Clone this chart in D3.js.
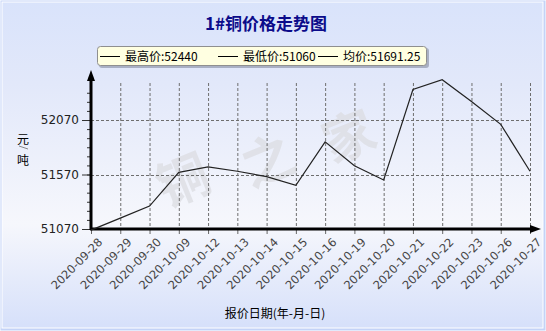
<!DOCTYPE html>
<html>
<head>
<meta charset="utf-8">
<script src="https://cdn.jsdelivr.net/npm/d3@7"></script>
<style>
  body { margin: 0; background: #fff; }
  svg { display: block; }
</style>
</head>
<body>
<svg id="chart"></svg>
<script>
let dates = ["2020-09-28", "2020-09-29", "2020-09-30", "2020-10-09", "2020-10-12", "2020-10-13",
    "2020-10-14", "2020-10-15", "2020-10-16", "2020-10-19", "2020-10-20", "2020-10-21",
    "2020-10-22", "2020-10-23", "2020-10-26", "2020-10-27"]
let prices = [51060, 51170, 51280, 51590, 51640, 51600, 51550, 51470, 51870, 51650, 51520,
    52350, 52440, 52240, 52030, 51600]
let yTicks = [51070, 51570, 52070]
let legendItems = ["最高价:52440", "最低价:51060", "均价:51691.25"]
let watermark = ["铜", "之", "家"]

let width = 546
let height = 331

let svg = d3.select("#chart")
    .attr("width", width)
    .attr("height", height)

let defs = svg.append("defs")
let bg = defs.append("linearGradient").attr("id", "bg")
    .attr("x1", 0).attr("y1", 0).attr("x2", 0).attr("y2", 1)
bg.append("stop").attr("offset", "0%").attr("stop-color", "#d9e3fb")
bg.append("stop").attr("offset", "25%").attr("stop-color", "#e2e8fa")
bg.append("stop").attr("offset", "68%").attr("stop-color", "#f6f7fc")
bg.append("stop").attr("offset", "100%").attr("stop-color", "#d6e0fa")

svg.append("rect")
    .attr("x", 0.5).attr("y", 0.5)
    .attr("width", width - 1).attr("height", height - 1)
    .attr("fill", "#c4d3f7")
svg.append("rect")
    .attr("x", 2).attr("y", 2)
    .attr("width", width - 5).attr("height", height - 5)
    .attr("fill", "url(#bg)")
    .attr("stroke", "#fff")
    .attr("stroke-width", 1)

let xScale = d3.scalePoint().domain(dates).range([91, 530])
let yScale = d3.scaleLinear().domain([51070, 52070]).range([229, 120])

// watermark
let wmPos = [[190, 198], [275, 178], [356, 154]]
watermark.forEach(function(c, i) {
    svg.append("text")
        .text(c)
        .attr("transform", "translate(" + wmPos[i][0] + "," + wmPos[i][1] + ") rotate(-22)")
        .attr("text-anchor", "middle")
        .attr("font-family", "Noto Sans CJK SC")
        .attr("font-weight", "bold")
        .attr("font-size", 52)
        .attr("fill", "#dcdde2")
        .attr("opacity", 0.75)
})

// title
svg.append("text")
    .text("1#铜价格走势图")
    .attr("x", 266).attr("y", 30)
    .attr("text-anchor", "middle")
    .attr("font-family", "Noto Sans CJK SC")
    .attr("font-weight", "bold")
    .attr("font-size", 17)
    .attr("fill", "#0b0b8a")

// legend
let legend = svg.append("g")
legend.append("rect")
    .attr("x", 99).attr("y", 48).attr("width", 330).attr("height", 20)
    .attr("rx", 3).attr("fill", "#a9b0c4")
legend.append("rect")
    .attr("x", 97.5).attr("y", 46.5).attr("width", 329).attr("height", 19)
    .attr("rx", 3).attr("fill", "#ffffe1").attr("stroke", "#8f8f8f")
let legendX = [100, 218, 318]
legendItems.forEach(function(t, i) {
    legend.append("line")
        .attr("x1", legendX[i]).attr("x2", legendX[i] + 20)
        .attr("y1", 56.5).attr("y2", 56.5)
        .attr("stroke", "#000")
    legend.append("text")
        .text(t)
        .attr("x", legendX[i] + 25).attr("y", 61)
        .attr("font-family", "Noto Sans CJK SC")
        .attr("font-size", 12)
        .attr("fill", "#000")
})

// grid
let grid = svg.append("g")
grid.selectAll(".vgrid")
    .data(dates.slice(1))
    .join("line")
    .attr("x1", d => xScale(d) + 0.5).attr("x2", d => xScale(d) + 0.5)
    .attr("y1", 83).attr("y2", 229)
    .attr("stroke", "#6e6e6e").attr("stroke-dasharray", "3,2")
grid.selectAll(".hgrid")
    .data(yTicks.slice(1))
    .join("line")
    .attr("x1", 91).attr("x2", 530)
    .attr("y1", d => Math.round(yScale(d)) + 0.5).attr("y2", d => Math.round(yScale(d)) + 0.5)
    .attr("stroke", "#6e6e6e").attr("stroke-dasharray", "3,2")

// minor ticks on y axis
let minor = d3.range(0, 16).map(i => 51070 + i * 500 / 6)
svg.append("g")
    .attr("transform", "translate(91,0)")
    .call(d3.axisLeft(yScale).tickValues(minor).tickSize(4).tickFormat(""))
    .call(g => g.select(".domain").remove())
    .call(g => g.selectAll("line").attr("stroke", "#333"))

let yAxis = svg.append("g")
    .attr("transform", "translate(91,0)")
    .call(d3.axisLeft(yScale).tickValues(yTicks).tickSize(9).tickPadding(3).tickFormat(d3.format("d")))
yAxis.select(".domain").remove()
yAxis.selectAll("line").attr("stroke", "#333")
yAxis.selectAll("text")
    .attr("font-family", "DejaVu Sans")
    .attr("font-size", 12)
    .attr("fill", "#222")

let xAxis = svg.append("g")
    .attr("transform", "translate(0,229)")
    .call(d3.axisBottom(xScale).tickSize(5).tickPadding(2))
xAxis.select(".domain").remove()
xAxis.selectAll("line").attr("stroke", "#666")
xAxis.selectAll("text")
    .attr("font-family", "DejaVu Sans")
    .attr("font-size", 11.5)
    .attr("fill", "#444")
    .attr("text-anchor", "end")
    .attr("dy", "0.35em")
    .attr("transform", "translate(4,6) rotate(-45)")

// axis lines with arrows
svg.append("line")
    .attr("x1", 91).attr("x2", 91).attr("y1", 230).attr("y2", 80)
    .attr("stroke", "#000").attr("stroke-width", 3)
svg.append("path")
    .attr("d", "M91,70 L87,81 L95,81 Z").attr("fill", "#000")
svg.append("line")
    .attr("x1", 90).attr("x2", 532).attr("y1", 229).attr("y2", 229)
    .attr("stroke", "#000").attr("stroke-width", 3)
svg.append("path")
    .attr("d", "M541,229 L530,225 L530,233 Z").attr("fill", "#000")

// price line
let line = d3.line()
    .x((d, i) => xScale(dates[i]))
    .y(d => yScale(d))
svg.append("path")
    .datum(prices)
    .attr("d", line)
    .attr("fill", "none")
    .attr("stroke", "#222")
    .attr("stroke-width", 1.2)

// axis titles
svg.append("text")
    .text("元")
    .attr("x", 23).attr("y", 144)
    .attr("text-anchor", "middle")
    .attr("font-family", "Noto Sans CJK SC")
    .attr("font-size", 12)
svg.append("line")
    .attr("x1", 19).attr("y1", 146).attr("x2", 28).attr("y2", 149)
    .attr("stroke", "#888")
svg.append("text")
    .text("吨")
    .attr("x", 23).attr("y", 165)
    .attr("text-anchor", "middle")
    .attr("font-family", "Noto Sans CJK SC")
    .attr("font-size", 12)

svg.append("text")
    .text("报价日期(年-月-日)")
    .attr("x", 275).attr("y", 318)
    .attr("text-anchor", "middle")
    .attr("font-family", "Noto Sans CJK SC")
    .attr("font-size", 12)
    .attr("fill", "#000")
</script>
</body>
</html>
